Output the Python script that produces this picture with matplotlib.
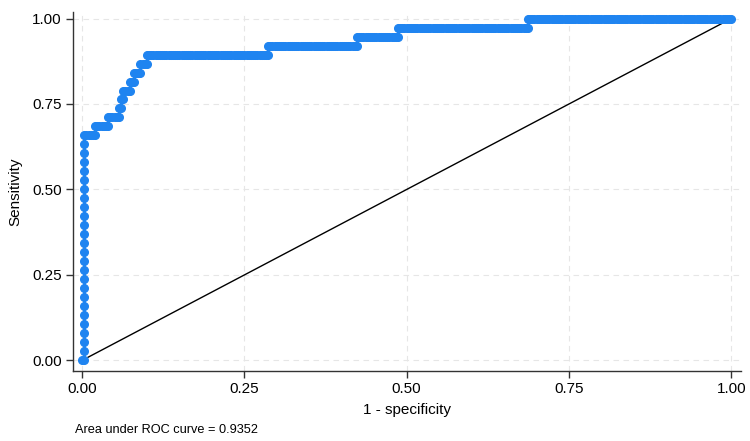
import numpy as np
import matplotlib
matplotlib.use("Agg")
import matplotlib.pyplot as plt

plt.rcParams['font.family'] = ['Liberation Sans', 'DejaVu Sans']

# order of cases by decreasing score, as runs of (negatives, positives)
neg_runs = [1, 5, 6, 5, 1, 1, 3, 2, 3, 3, 56, 41, 19, 60, 94]
pos_runs = [25, 1, 1, 1, 1, 1, 1, 1, 1, 1, 1, 1, 1, 1, 0]
auc_text = "Area under ROC curve = 0.9352"
ticks = [0.0, 0.25, 0.5, 0.75, 1.0]
tick_labels = ["0.00", "0.25", "0.50", "0.75", "1.00"]

n_neg = sum(neg_runs)
n_pos = sum(pos_runs)

# walk through the cases: one point per case
fp, tp = 0, 0
fpr, tpr = [0.0], [0.0]
for nn, npos in zip(neg_runs, pos_runs):
    for _ in range(nn):
        fp += 1
        fpr.append(fp / n_neg)
        tpr.append(tp / n_pos)
    for _ in range(npos):
        tp += 1
        fpr.append(fp / n_neg)
        tpr.append(tp / n_pos)

fig = plt.figure(figsize=(7.5, 4.41), dpi=100)
ax = fig.add_axes([0.0973, 0.1587, 0.8907, 0.8148])

blue = "#1f84f0"
ax.plot(fpr, tpr, color=blue, lw=2, marker="o", ms=5.5, mec=blue, mfc=blue, zorder=3)
ax.plot([0, 1], [0, 1], color="black", lw=1, zorder=2)

ax.set_xlim(-0.014, 1.015)
ax.set_ylim(-0.031, 1.02)
ax.set_xticks(ticks)
ax.set_xticklabels(tick_labels)
ax.set_yticks(ticks)
ax.set_yticklabels(tick_labels)
ax.tick_params(direction="out", length=5, width=1, labelsize=11, color="#333333", pad=3)

ax.grid(True, color="#e6e6e6", lw=0.8, ls=(0, (5, 4)))
ax.set_axisbelow(True)
for s in ["top", "right"]:
    ax.spines[s].set_visible(False)
for s in ["left", "bottom"]:
    ax.spines[s].set_color("#333333")
    ax.spines[s].set_linewidth(1)

ax.set_xlabel("1 - specificity", fontsize=11, labelpad=5)
ax.set_ylabel("Sensitivity", fontsize=11, labelpad=7)

fig.text(75 / 750, 1 - 430 / 441, auc_text, fontsize=9.2, va="center", ha="left")

fig.savefig("out.png", dpi=100)
